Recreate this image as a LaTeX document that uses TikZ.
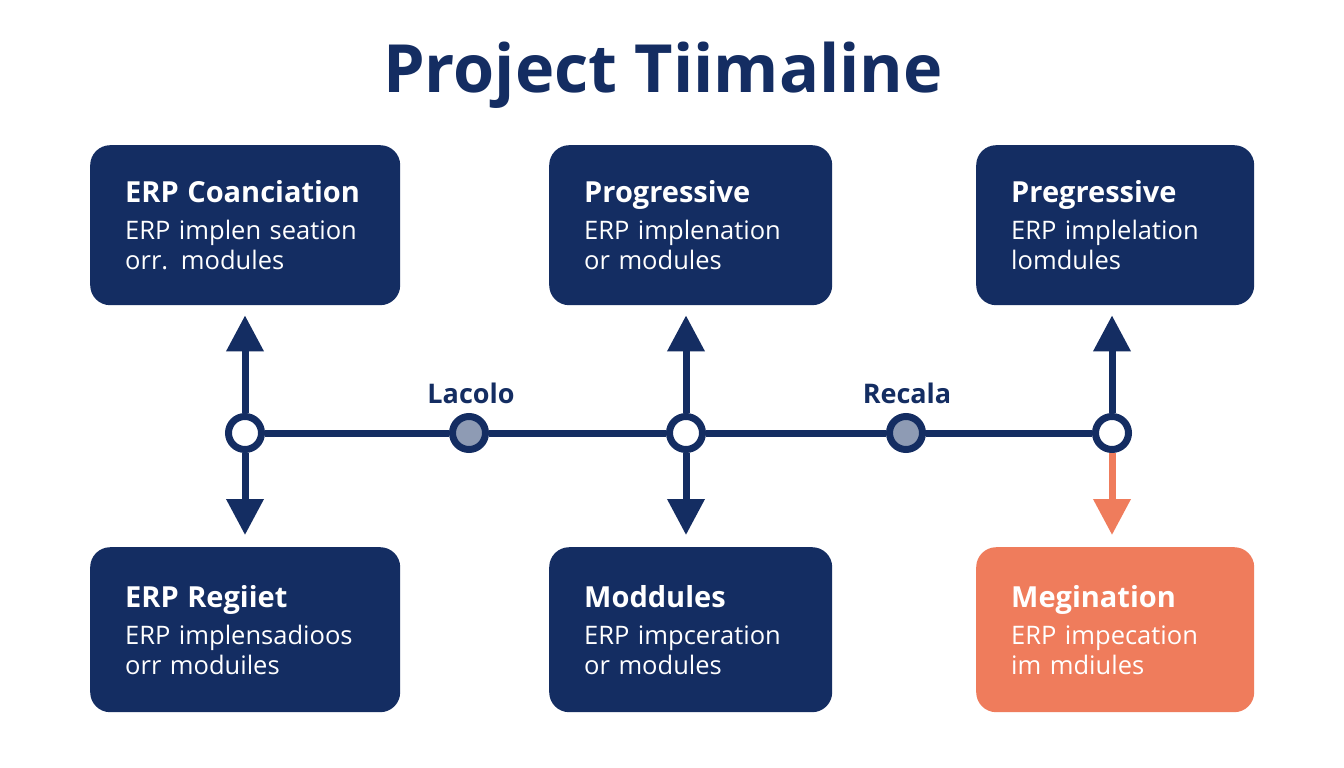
\documentclass[tikz,border=0pt]{standalone}
\usepackage{fontspec}
\setmainfont{Open Sans}
\usetikzlibrary{arrows.meta}
\definecolor{navy}{RGB}{20,45,98}
\definecolor{coral}{RGB}{239,124,92}
\definecolor{dotgray}{RGB}{142,155,180}

\begin{document}
\begin{tikzpicture}[x=1pt, y=-1pt,
        card/.style={rounded corners=20pt, fill=navy, text=white, align=left,
            inner xsep=35pt, minimum height=160pt, anchor=north west,
            font=\fontsize{25.5}{30}\selectfont},
        hub/.style={circle, draw=navy, line width=7pt, fill=white, minimum size=33pt, inner sep=0pt},
        stop/.style={hub, fill=dotgray},
        rail/.style={navy, line width=7pt},
        link/.style={line width=7pt, -{Triangle[length=36pt, width=36pt]}},
        tag/.style={text=navy, font=\fontsize{27}{30}\selectfont\bfseries}
    ]
    \fill[white] (0,0) rectangle (1344,768);
    \useasboundingbox (0,0) rectangle (1344,768);

    \node[text=navy, font=\fontsize{66.5}{80}\selectfont\bfseries] (title) at (663,75) {Project Tiimaline};

    % cards above and below the line
    \foreach \n/\x/\y/\w/\h/\c/\head/\lineA/\lineB in {
        top1/90/145/240/160/navy/{ERP Coanciation}/{ERP implen seation}/{orr. modules},
        top2/549/145/213/160/navy/{Progressive}/{ERP implenation}/{or modules},
        top3/976/145/208/160/navy/{Pregressive}/{ERP implelation}/{lomdules},
        bot1/90/547/240/165/navy/{ERP Regiiet}/{ERP implensadioos}/{orr moduiles},
        bot2/549/547/213/165/navy/{Moddules}/{ERP impceration}/{or modules},
        bot3/976/547/208/165/coral/{Megination}/{ERP impecation}/{im mdiules}%
    } {
        \node[card, fill=\c, text width=\w pt, minimum height=\h pt] (\n) at (\x,\y)
            {\textbf{\fontsize{29}{30}\selectfont \head}\\[7pt]\lineA\\\lineB};
    }

    % timeline
    \node[hub] (h1) at (245,433) {};
    \node[stop] (g1) at (469,433) {};
    \node[hub] (h2) at (686,433) {};
    \node[stop] (g2) at (906,433) {};
    \node[hub] (h3) at (1112,433) {};
    \draw[rail] (h1) -- (g1) -- (h2) -- (g2) -- (h3);

    \node[tag] (l1) at (471,393) {Lacolo};
    \node[tag] (l2) at (907,393) {Recala};

    \foreach \h/\t/\b/\c in {h1/top1/bot1/navy, h2/top2/bot2/navy, h3/top3/bot3/coral} {
        \draw[link, navy, shorten >=10pt] (\h) -- (\h |- \t.south);
        \draw[link, \c, shorten >=12pt] (\h) -- (\h |- \b.north);
    }
\end{tikzpicture}
\end{document}
